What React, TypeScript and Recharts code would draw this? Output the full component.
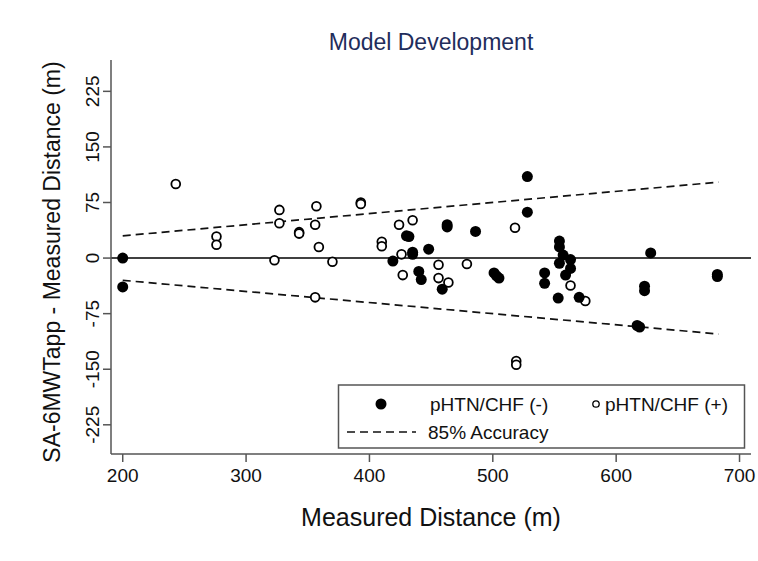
import React from "react";
import { ScatterChart, Scatter, XAxis, YAxis, ReferenceLine } from "recharts";

// Measured distance (m) vs SA-6MWTapp - Measured distance (m)
const negativeGroup = [
  { x: 200, y: 0 }, { x: 200, y: -39 }, { x: 419, y: -4 }, { x: 430, y: 30 },
  { x: 432, y: 29 }, { x: 435, y: 8 }, { x: 435, y: 5 }, { x: 440, y: -18 },
  { x: 442, y: -29 }, { x: 448, y: 12 }, { x: 459, y: -42 }, { x: 463, y: 45 },
  { x: 463, y: 42 }, { x: 486, y: 36 }, { x: 501, y: -20 }, { x: 503, y: -24 },
  { x: 505, y: -27 }, { x: 528, y: 110 }, { x: 528, y: 62 }, { x: 542, y: -20 },
  { x: 542, y: -34 }, { x: 553, y: -54 }, { x: 554, y: 23 }, { x: 554, y: 15 },
  { x: 557, y: 4 }, { x: 563, y: -2 }, { x: 554, y: -7 }, { x: 563, y: -14 },
  { x: 559, y: -23 }, { x: 570, y: -53 }, { x: 617, y: -91 }, { x: 619, y: -93 },
  { x: 628, y: 7 }, { x: 623, y: -38 }, { x: 623, y: -44 }, { x: 682, y: -22 },
  { x: 682, y: -25 },
];

const positiveGroup = [
  { x: 243, y: 100 }, { x: 276, y: 29 }, { x: 276, y: 18 }, { x: 323, y: -3 },
  { x: 327, y: 65 }, { x: 327, y: 47 }, { x: 343, y: 35 }, { x: 343, y: 33 },
  { x: 356, y: -53 }, { x: 357, y: 70 }, { x: 356, y: 45 }, { x: 359, y: 15 },
  { x: 370, y: -5 }, { x: 393, y: 75 }, { x: 393, y: 73 }, { x: 410, y: 22 },
  { x: 410, y: 16 }, { x: 424, y: 45 }, { x: 426, y: 5 }, { x: 427, y: -23 },
  { x: 435, y: 51 }, { x: 456, y: -9 }, { x: 456, y: -27 }, { x: 464, y: -33 },
  { x: 479, y: -8 }, { x: 518, y: 41 }, { x: 519, y: -139 }, { x: 519, y: -144 },
  { x: 563, y: -37 }, { x: 575, y: -58 },
];

// 85% accuracy limits
const upperLimit = [ { x: 200, y: 30 }, { x: 683, y: 102.5 } ];
const lowerLimit = [ { x: 200, y: -30 }, { x: 683, y: -102.5 } ];

const xTicks = [200, 300, 400, 500, 600, 700];
const yTicks = [-225, -150, -75, 0, 75, 150, 225];

const FONT = "'Liberation Sans', Arial, Helvetica, sans-serif";
const AXIS = "#555";

const FilledDot = (p: any) => <circle cx={p.cx} cy={p.cy} r={5.5} fill="#000" />;
const OpenDot = (p: any) => (
  <circle cx={p.cx} cy={p.cy} r={4.4} fill="#fff" stroke="#000" strokeWidth={1.8} />
);
const NoDot = () => <g />;

const XTick = (p: any) => (
  <text x={p.x} y={p.y} dy={18} textAnchor="middle" fontSize={19} fontFamily={FONT} fill="#111">
    {p.payload.value}
  </text>
);
const YTick = (p: any) => (
  <text
    transform={`translate(${p.x},${p.y}) rotate(-90)`}
    textAnchor="middle"
    fontSize={19}
    fontFamily={FONT}
    fill="#111"
  >
    {p.payload.value}
  </text>
);

export default function App() {
  return (
    <div style={{ position: "absolute", left: 0, top: 0, width: 758, height: 561, background: "#fff" }}>
      <ScatterChart width={758} height={561} margin={{ top: 60, right: 7, bottom: 0, left: 0 }}>
        <XAxis
          type="number"
          dataKey="x"
          domain={[190.5, 709.3]}
          ticks={xTicks}
          allowDataOverflow
          height={107}
          tickSize={8}
          tickMargin={2}
          axisLine={{ stroke: AXIS, strokeWidth: 1.5 }}
          tickLine={{ stroke: AXIS, strokeWidth: 1.5 }}
          tick={<XTick />}
        />
        <YAxis
          type="number"
          dataKey="y"
          domain={[-264.4, 267.3]}
          ticks={yTicks}
          allowDataOverflow
          width={111}
          tickSize={8}
          tickMargin={4}
          axisLine={{ stroke: AXIS, strokeWidth: 1.5 }}
          tickLine={{ stroke: AXIS, strokeWidth: 1.5 }}
          tick={<YTick />}
        />
        <ReferenceLine y={0} stroke="#000" strokeWidth={1.5} />
        <Scatter
          data={upperLimit}
          line={{ stroke: "#111", strokeWidth: 1.7, strokeDasharray: "8 5" }}
          shape={NoDot}
          isAnimationActive={false}
        />
        <Scatter
          data={lowerLimit}
          line={{ stroke: "#111", strokeWidth: 1.7, strokeDasharray: "8 5" }}
          shape={NoDot}
          isAnimationActive={false}
        />
        <Scatter data={positiveGroup} shape={OpenDot} isAnimationActive={false} />
        <Scatter data={negativeGroup} shape={FilledDot} isAnimationActive={false} />
      </ScatterChart>
      <svg
        width={758}
        height={561}
        style={{ position: "absolute", left: 0, top: 0, pointerEvents: "none" }}
        fontFamily={FONT}
      >
        <text x={431} y={50} textAnchor="middle" fontSize={23} fill="#1f2d5c">
          Model Development
        </text>
        <text x={431} y={526} textAnchor="middle" fontSize={25} fill="#111">
          Measured Distance (m)
        </text>
        <text transform="translate(60,262) rotate(-90)" textAnchor="middle" fontSize={23} fill="#111">
          SA-6MWTapp - Measured Distance (m)
        </text>
        <rect x={338.5} y={385} width={406} height={63} fill="#fff" stroke={AXIS} strokeWidth={1.5} />
        <circle cx={381} cy={404} r={5.5} fill="#000" />
        <text x={430} y={411} fontSize={19} fill="#111">pHTN/CHF (-)</text>
        <circle cx={596} cy={404} r={3.2} fill="#fff" stroke="#000" strokeWidth={1.3} />
        <text x={605} y={411} fontSize={19} fill="#111">pHTN/CHF (+)</text>
        <line x1={347} y1={432} x2={416} y2={432} stroke="#111" strokeWidth={1.7} strokeDasharray="8 5" />
        <text x={428} y={439} fontSize={19} fill="#111">85% Accuracy</text>
      </svg>
    </div>
  );
}
